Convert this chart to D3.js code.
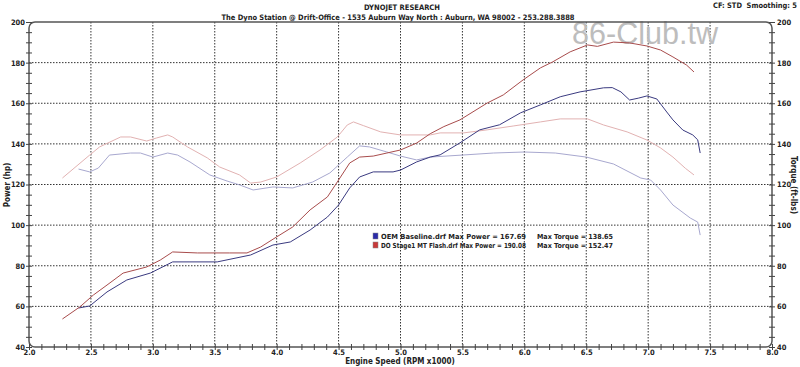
<!DOCTYPE html>
<html><head><meta charset="utf-8">
<script src="https://cdn.jsdelivr.net/npm/d3@7"></script>
<style>body{margin:0;background:#fff}svg{display:block}</style>
</head><body><svg id="c" width="800" height="367"></svg>
<script>
// ---- data ----
const titleMain = "DYNOJET RESEARCH";
const titleSub = "The Dyno Station @ Drift-Office - 1535 Auburn Way North : Auburn, WA 98002 - 253.288.3888";
const cornerNote = "CF: STD\u00a0 Smoothing: 5";
const xTicks = [2.0,2.5,3.0,3.5,4.0,4.5,5.0,5.5,6.0,6.5,7.0,7.5,8.0];
const yTicks = [40,60,80,100,120,140,160,180,200];

const rpmRedPower = [2.27,2.41,2.52,2.63,2.76,2.95,3.06,3.16,3.36,3.62,3.76,3.87,4.00,4.13,4.27,4.41,4.50,4.59,4.67,4.78,4.89,5.00,5.13,5.24,5.35,5.48,5.70,5.83,5.99,6.13,6.23,6.37,6.51,6.59,6.72,6.85,6.99,7.10,7.20,7.31,7.37];
const hpRed = [53.8,59.7,65.6,70.5,76.4,79.4,82.8,86.8,86.3,86.3,86.3,89.2,94.2,99.1,107.5,113.9,122.2,130.6,133.5,134.0,135.5,137.0,140.4,145.0,148.5,151.8,160.1,164.1,171.5,177.4,180.4,185.3,188.7,188.0,190.1,189.7,188.2,186.2,182.8,178.8,175.4];

const rpmBluePower = [2.40,2.49,2.63,2.79,2.98,3.16,3.30,3.52,3.79,3.97,4.11,4.27,4.41,4.50,4.59,4.67,4.78,4.94,5.00,5.13,5.24,5.32,5.48,5.64,5.80,5.97,6.13,6.29,6.45,6.64,6.71,6.78,6.85,6.92,6.99,7.07,7.15,7.20,7.28,7.36,7.40,7.42];
const hpBlue = [59.2,60.2,67.1,73.0,76.4,81.9,81.9,81.9,85.3,90.2,91.7,97.6,104.0,109.9,118.3,123.7,126.2,126.2,127.1,131.1,133.5,134.6,140.5,146.9,149.4,155.3,159.2,163.2,165.6,167.6,167.7,165.6,161.6,162.5,163.6,162.1,155.7,151.8,146.8,144.4,142.0,135.5];

const rpmRedTorque = [2.27,2.49,2.57,2.74,2.82,2.95,3.03,3.12,3.16,3.28,3.44,3.54,3.70,3.79,3.87,4.00,4.19,4.35,4.49,4.57,4.62,4.70,4.84,5.00,5.24,5.32,5.51,5.70,5.91,6.13,6.29,6.51,6.64,6.83,6.99,7.10,7.20,7.30,7.37];
const tqRed = [123.2,134.5,138.5,143.4,143.4,141.4,142.9,144.4,143.4,138.5,133.1,128.6,124.7,120.7,121.2,123.7,130.6,137.0,143.4,149.3,150.8,149.0,145.9,144.4,144.4,145.4,145.4,146.9,148.8,150.8,152.3,152.3,149.3,145.9,141.9,138.0,133.5,128.0,124.7];

const rpmBlueTorque = [2.40,2.49,2.56,2.65,2.82,2.90,3.00,3.12,3.20,3.30,3.46,3.60,3.70,3.81,3.97,4.13,4.29,4.43,4.57,4.67,4.75,4.89,5.00,5.13,5.24,5.50,5.75,6.00,6.25,6.50,6.72,6.94,7.02,7.10,7.20,7.34,7.40,7.42];
const tqBlue = [127.6,126.2,128.1,134.5,135.5,135.5,133.5,135.5,134.5,131.1,124.7,121.7,119.8,117.3,118.8,118.3,121.2,125.7,133.5,139.0,138.5,136.0,134.0,132.1,133.5,134.5,135.5,136.0,135.5,133.5,130.1,123.2,122.2,117.3,109.9,103.5,101.5,95.1];

const legendNames = ["OEM Baseline.drf","DO Stage1 MT Flash.drf"];
const legendMaxPower = ["167.69","190.08"];
const legendMaxTorque = ["138.65","152.47"];

// ---- chart ----
const svg = d3.select("#c");
const L=29, R=772, T=22, B=347;
const x = d3.scaleLinear().domain([2,8]).range([L,R]);
const y = d3.scaleLinear().domain([40,200]).range([B,T]);
const font = "'DejaVu Sans Condensed','DejaVu Sans',sans-serif";

// titles
svg.append("text").attr("x",402).attr("y",10).attr("text-anchor","middle")
  .attr("font-family",font).attr("font-weight","bold").attr("font-size",7.5)
  .attr("textLength",76).attr("lengthAdjust","spacingAndGlyphs").attr("fill","#222").text(titleMain);
svg.append("text").attr("x",398).attr("y",20).attr("text-anchor","middle")
  .attr("font-family",font).attr("font-weight","bold").attr("font-size",7.5)
  .attr("textLength",353).attr("lengthAdjust","spacingAndGlyphs").attr("fill","#222").text(titleSub);
svg.append("text").attr("x",797).attr("y",8).attr("text-anchor","end")
  .attr("font-family",font).attr("font-weight","bold").attr("font-size",7.5)
  .attr("textLength",84).attr("lengthAdjust","spacingAndGlyphs").attr("fill","#222").text(cornerNote);

// gridlines
const gx = [2.5,3.0,3.5,4.0,4.5,5.0,5.5,6.0,6.5,7.0,7.5];
svg.append("g").selectAll("line").data(gx).join("line")
  .attr("x1",d=>x(d)).attr("x2",d=>x(d)).attr("y1",T).attr("y2",B)
  .attr("stroke","#333").attr("stroke-width",1).attr("stroke-dasharray","1.5,1.5");
svg.append("g").selectAll("line").data(yTicks.slice(1,-1)).join("line")
  .attr("x1",L).attr("x2",R).attr("y1",d=>y(d)).attr("y2",d=>y(d))
  .attr("stroke","#333").attr("stroke-width",1).attr("stroke-dasharray","1.5,1.5");

// watermark
svg.append("text").attr("x",572).attr("y",44).attr("font-family","'Liberation Sans',Arial,sans-serif")
  .attr("font-size",31).attr("fill","#bdbdbd").attr("textLength",146).attr("lengthAdjust","spacingAndGlyphs").text("86-Club.tw");

// frame
svg.append("rect").attr("x",L).attr("y",T).attr("width",R-L).attr("height",B-T)
  .attr("rx",6).attr("fill","none").attr("stroke","#555").attr("stroke-width",1.5);

// axes with minor ticks
function styleAxis(g){ g.select(".domain").remove(); g.selectAll(".tick line").attr("stroke","#444");
  g.selectAll("text").attr("font-family",font).attr("font-weight","bold").attr("font-size",7.5).attr("fill","#222"); }
const minorX = d3.range(20,81).map(d=>d/10);
const minorY = d3.range(40,201,5);
// bottom
svg.append("g").attr("transform",`translate(0,${B-3})`).call(d3.axisBottom(x).tickValues(minorX).tickSize(6).tickFormat("")).call(styleAxis);
svg.append("g").attr("transform",`translate(0,${B})`).call(d3.axisBottom(x).tickValues(xTicks).tickSize(0).tickPadding(3).tickFormat(d3.format(".1f"))).call(styleAxis);
// left
svg.append("g").attr("transform",`translate(${L+3},0)`).call(d3.axisLeft(y).tickValues(minorY).tickSize(6).tickFormat("")).call(styleAxis);
svg.append("g").attr("transform",`translate(${L},0)`).call(d3.axisLeft(y).tickValues(yTicks).tickSize(0).tickPadding(4)).call(styleAxis);
// right
svg.append("g").attr("transform",`translate(${R-3},0)`).call(d3.axisRight(y).tickValues(minorY).tickSize(6).tickFormat("")).call(styleAxis);
svg.append("g").attr("transform",`translate(${R},0)`).call(d3.axisRight(y).tickValues(yTicks).tickSize(0).tickPadding(5)).call(styleAxis);

// axis titles
svg.append("text").attr("transform","translate(10,185) rotate(-90)").attr("text-anchor","middle")
  .attr("font-family",font).attr("font-weight","bold").attr("font-size",8).attr("fill","#222").text("Power (hp)");
svg.append("text").attr("transform","translate(791,185) rotate(90)").attr("text-anchor","middle")
  .attr("font-family",font).attr("font-weight","bold").attr("font-size",8).attr("fill","#222").text("Torque (ft-lbs)");
svg.append("text").attr("x",400).attr("y",364).attr("text-anchor","middle")
  .attr("font-family",font).attr("font-weight","bold").attr("font-size",8).attr("fill","#222").text("Engine Speed (RPM x1000)");

// lines
const line = d3.line().x(d=>x(d[0])).y(d=>y(d[1]));
const series = [
  {r:rpmBlueTorque, v:tqBlue, c:"#a8a8cf"},
  {r:rpmRedTorque, v:tqRed, c:"#e2b2b2"},
  {r:rpmBluePower, v:hpBlue, c:"#3a3a80"},
  {r:rpmRedPower, v:hpRed, c:"#a84c4c"}
];
series.forEach(s=>{
  svg.append("path").datum(d3.zip(s.r,s.v)).attr("d",line)
    .attr("fill","none").attr("stroke",s.c).attr("stroke-width",1).attr("stroke-linejoin","round");
});

// legend
const legColors = ["#2a2aa8","#c83a3a"];
const lg = svg.append("g");
legendNames.forEach((n,i)=>{
  const yy = 237 + i*9;
  lg.append("rect").attr("x",373).attr("y",yy-4).attr("width",5).attr("height",6)
    .attr("fill",legColors[i]).attr("stroke","#888").attr("stroke-width",0.5);
  lg.append("text").attr("x",381).attr("y",yy+2).attr("font-family",font).attr("font-weight","bold")
    .attr("font-size",7).attr("fill","#222").attr("textLength",145).attr("lengthAdjust","spacingAndGlyphs")
    .text(`${n} Max Power = ${legendMaxPower[i]}`);
  lg.append("text").attr("x",537).attr("y",yy+2).attr("font-family",font).attr("font-weight","bold")
    .attr("font-size",7).attr("fill","#222").attr("textLength",76).attr("lengthAdjust","spacingAndGlyphs")
    .text(`Max Torque = ${legendMaxTorque[i]}`);
});
</script></body></html>
